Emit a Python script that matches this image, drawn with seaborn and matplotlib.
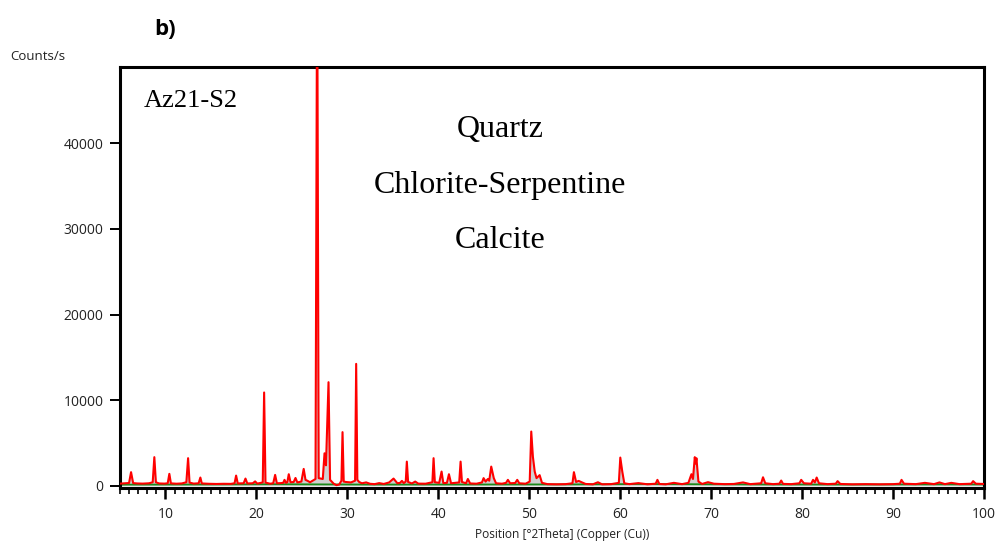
import matplotlib
matplotlib.use("Agg")
import matplotlib.pyplot as plt
import seaborn as sns
import pandas as pd
from matplotlib.ticker import MultipleLocator

# ---- data ----
red_profile = [
    (5.0, 260), (5.6, 300), (6.0, 330), (6.22, 1600), (6.45, 320), (6.9, 280), (7.5, 260),
    (8.2, 300), (8.6, 420), (8.78, 3350), (8.95, 420), (9.3, 280), (9.9, 260),
    (10.25, 300), (10.43, 1400), (10.6, 290), (11.2, 250), (11.8, 280), (12.3, 420),
    (12.49, 3230), (12.65, 380), (13.1, 260), (13.65, 300), (13.84, 970), (14.0, 280),
    (14.8, 240), (15.6, 220), (16.4, 240), (17.2, 230), (17.6, 300), (17.77, 1200),
    (17.95, 280), (18.6, 300), (18.8, 850), (19.0, 280), (19.6, 300), (19.86, 520),
    (20.1, 260), (20.7, 400), (20.85, 10900), (21.0, 380), (21.5, 250), (21.85, 300),
    (22.06, 1280), (22.25, 300), (22.7, 320), (22.95, 350), (23.09, 700), (23.25, 350),
    (23.4, 420), (23.56, 1360), (23.75, 420), (24.1, 450), (24.3, 920), (24.5, 400),
    (24.95, 500), (25.2, 1980), (25.4, 700), (25.6, 600), (25.9, 420), (26.5, 800),
    (26.68, 62000), (26.85, 900), (27.3, 800), (27.49, 3800), (27.65, 2400),
    (27.93, 12100), (28.1, 700), (28.5, 250), (28.8, 80), (29.1, 150), (29.35, 600),
    (29.47, 6270), (29.6, 500), (29.85, 450), (30.4, 400), (30.85, 600), (30.97, 14240),
    (31.1, 700), (31.3, 450), (31.6, 300), (32.07, 400), (32.5, 240), (33.0, 200),
    (33.5, 320), (34.0, 220), (34.6, 400), (35.08, 850), (35.5, 300), (35.8, 350),
    (36.0, 580), (36.2, 320), (36.42, 500), (36.54, 2830), (36.68, 450), (37.1, 280),
    (37.46, 500), (37.8, 260), (38.6, 250), (39.35, 420), (39.48, 3230), (39.62, 420),
    (40.1, 350), (40.36, 1670), (40.55, 320), (40.95, 350), (41.17, 1360), (41.4, 300),
    (42.3, 400), (42.45, 2830), (42.6, 450), (43.05, 300), (43.25, 800), (43.5, 280),
    (44.2, 250), (44.8, 400), (44.98, 900), (45.2, 500), (45.45, 800), (45.6, 600),
    (45.82, 2250), (46.1, 900), (46.35, 300), (47.0, 250), (47.45, 350), (47.65, 700),
    (47.9, 300), (48.45, 330), (48.68, 700), (48.9, 300), (49.6, 250), (50.05, 500),
    (50.22, 6340), (50.4, 3400), (50.6, 1670), (50.8, 900), (51.14, 1250), (51.4, 350),
    (52.0, 200), (53.0, 180), (54.0, 200), (54.75, 300), (54.91, 1600), (55.15, 450),
    (55.43, 580), (55.8, 400), (56.2, 220), (57.0, 180), (57.55, 420), (58.0, 180),
    (59.0, 200), (59.85, 350), (60.01, 3300), (60.23, 1650), (60.45, 300), (61.0, 200),
    (62.0, 320), (63.0, 180), (63.9, 250), (64.09, 700), (64.3, 220), (65.0, 180),
    (65.9, 350), (66.8, 200), (67.5, 350), (67.83, 1360), (68.0, 800), (68.2, 3350),
    (68.3, 2600), (68.38, 3230), (68.6, 500), (69.0, 220), (69.65, 430), (70.3, 250),
    (71.5, 200), (72.5, 220), (73.5, 400), (74.3, 200), (75.5, 300), (75.7, 1000),
    (75.95, 300), (76.8, 200), (77.5, 250), (77.7, 620), (77.9, 230), (78.8, 200),
    (79.7, 300), (79.9, 700), (80.2, 300), (81.0, 250), (81.2, 700), (81.4, 400),
    (81.6, 970), (81.85, 300), (82.8, 200), (83.7, 250), (83.9, 550), (84.2, 220),
    (85.5, 180), (87.0, 200), (88.5, 180), (90.0, 200), (90.75, 250), (90.93, 700),
    (91.2, 250), (92.5, 200), (93.5, 350), (94.5, 200), (95.1, 400), (95.7, 200),
    (96.4, 350), (97.3, 200), (98.6, 250), (98.8, 550), (99.1, 250), (100.0, 220),
]
background_profile = [
    (5.0, 140), (15.0, 160), (22.0, 190), (27.0, 170), (33.0, 150), (45.0, 160),
    (55.0, 170), (62.0, 210), (68.0, 190), (75.0, 160), (85.0, 150), (95.0, 170),
    (100.0, 160),
]
y_ticks = [0, 10000, 20000, 30000, 40000]
x_ticks = [10, 20, 30, 40, 50, 60, 70, 80, 90, 100]
phases = ["Quartz", "Chlorite-Serpentine", "Calcite"]
sample_name = "Az21-S2"

red = pd.DataFrame(red_profile, columns=["pos", "counts"])
bg = pd.DataFrame(background_profile, columns=["pos", "counts"])

sns.set_theme(style="ticks")
plt.rcParams["font.family"] = ["Open Sans", "DejaVu Sans"]

fig = plt.figure(figsize=(9.98, 5.45), dpi=100)
ax = fig.add_axes([0.1202, 0.1046, 0.8658, 0.7725])

ax.fill_between(red["pos"], 0, red["counts"], color="#c8c8c8", alpha=0.85, lw=0, zorder=1)
sns.lineplot(data=bg, x="pos", y="counts", ax=ax, color="#1a8a1a", lw=1.3, zorder=2)
sns.lineplot(data=red, x="pos", y="counts", ax=ax, color="#ff0000", lw=1.5, zorder=3)

ax.set_xlim(5, 100)
ax.set_ylim(-250, 48900)
ax.set_xticks(x_ticks)
ax.set_yticks(y_ticks)
ax.xaxis.set_minor_locator(MultipleLocator(1))
ax.set_xlabel("Position [°2Theta] (Copper (Cu))", fontsize=8.6, labelpad=5, color="#222222")
ax.xaxis.set_label_coords((562 - 120) / 864, -0.095)
ax.set_ylabel("")

for s in ax.spines.values():
    s.set_linewidth(2.2)
    s.set_color("black")
    s.set_visible(True)

ax.tick_params(axis="x", which="major", length=8, width=1.8, labelsize=10, pad=6, colors="black")
ax.tick_params(axis="x", which="minor", length=4, width=1.2, colors="black")
ax.tick_params(axis="y", which="major", length=7, width=1.4, labelsize=10, pad=5, colors="black")
for lab in ax.get_xticklabels() + ax.get_yticklabels():
    lab.set_color("#222222")

fig.text(0.010, 0.897, "Counts/s", fontsize=9.5, ha="left", va="center", color="#222222")
fig.text(0.165, 0.945, "b)", fontsize=16, fontweight="bold", ha="center", va="center",
         color="black")

serif = ["Liberation Serif", "DejaVu Serif"]
ax.text(0.027, 0.92, sample_name, transform=ax.transAxes, fontsize=19, family=serif,
        ha="left", va="center", color="black")
for i, ph in enumerate(phases):
    fig.text(0.501, 1 - (130 + 55 * i) / 545, ph, fontsize=23, family=serif,
             ha="center", va="center", color="black")

fig.savefig("out.png", dpi=100)
